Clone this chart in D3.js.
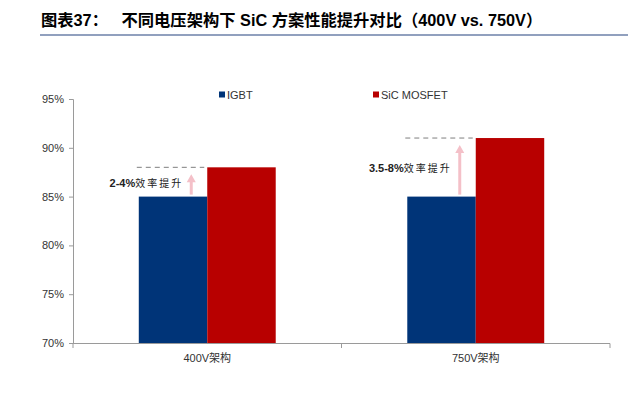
<!DOCTYPE html>
<html lang="zh">
<head>
  <meta charset="UTF-8">
  <title>SiC vs IGBT</title>
  <style>
    body, html { margin: 0; padding: 0; background: #fff; }
    text { font-family: "Liberation Sans", Arial, "Noto Sans CJK SC", sans-serif; }
  </style>
</head>
<body>
  <svg id="svg" width="640" height="403"></svg>

  <script src="https://d3js.org/d3.v7.min.js"></script>
  <script>
    // data
    const categories = ['400V架构', '750V架构']
    const seriesNames = ['IGBT', 'SiC MOSFET']
    const igbtValues = [85, 85]
    const sicValues = [88, 91]
    const gainLabels = ['2-4%', '3.5-8%']
    const yTicks = [70, 75, 80, 85, 90, 95]

    const colors = ['#003478', '#b80000']

    const svg = d3.select('#svg')

    // title + rule under it
    svg.append('text')
      .attr('x', 41)
      .attr('y', 26)
      .attr('font-size', 16.3)
      .attr('font-weight', 'bold')
      .attr('fill', '#000')
      .style('font-family', '"Liberation Sans", Arial, "Noto Sans CJK SC", sans-serif')
      .text('图表37：\u00a0\u00a0\u00a0不同电压架构下 SiC 方案性能提升对比（400V vs. 750V）')

    svg.append('line')
      .attr('x1', 40).attr('x2', 628)
      .attr('y1', 35).attr('y2', 35)
      .attr('stroke', '#6d80a8')
      .attr('stroke-width', 1.5)

    const x0 = d3.scaleBand()
      .domain(categories)
      .range([73, 610])
      .paddingInner(0.49)
      .paddingOuter(0.245)

    const x1 = d3.scaleBand()
      .domain(seriesNames)
      .range([0, x0.bandwidth()])

    const y = d3.scaleLinear()
      .domain([70, 95])
      .range([343, 99])

    // y axis
    const yAxis = d3.axisLeft(y)
      .tickValues(yTicks)
      .tickFormat(d => d + '%')
      .tickSize(4)
      .tickPadding(5)

    const gy = svg.append('g')
      .attr('transform', 'translate(73,0)')
      .call(yAxis)
    gy.select('.domain').attr('stroke', '#9a9a9a')
    gy.selectAll('.tick line').attr('stroke', '#9a9a9a')
    gy.selectAll('.tick text')
      .attr('font-size', 11)
      .attr('fill', '#333')
      .style('font-family', '"Liberation Sans", Arial, sans-serif')

    // bars
    const rows = categories.map((c, i) => ({ cat: c, values: [igbtValues[i], sicValues[i]] }))

    const groups = svg.append('g')
      .selectAll('g')
      .data(rows)
      .join('g')
      .attr('transform', d => `translate(${x0(d.cat)},0)`)

    groups.selectAll('rect')
      .data(d => d.values.map((v, j) => ({ name: seriesNames[j], value: v, j: j })))
      .join('rect')
      .attr('x', d => x1(d.name))
      .attr('width', x1.bandwidth())
      .attr('y', d => y(d.value))
      .attr('height', d => y(70) - y(d.value))
      .attr('fill', d => colors[d.j])

    // x axis (boundary ticks between categories)
    const xStep = x0.step()
    svg.append('line')
      .attr('x1', 73).attr('x2', 610)
      .attr('y1', 343.5).attr('y2', 343.5)
      .attr('stroke', '#9a9a9a')
    svg.append('g')
      .selectAll('line')
      .data(d3.range(categories.length + 1))
      .join('line')
      .attr('x1', i => 73 + i * xStep)
      .attr('x2', i => 73 + i * xStep)
      .attr('y1', 343.5)
      .attr('y2', 348)
      .attr('stroke', '#9a9a9a')

    svg.append('g')
      .selectAll('text')
      .data(categories)
      .join('text')
      .attr('x', d => x0(d) + x0.bandwidth() / 2)
      .attr('y', 362)
      .attr('text-anchor', 'middle')
      .attr('font-size', 11)
      .attr('fill', '#333')
      .text(d => d)

    // annotations: dashed guide, pink arrow, gain label
    const ann = svg.append('g')
      .selectAll('g')
      .data(rows)
      .join('g')

    ann.append('line')
      .attr('x1', d => x0(d.cat) - 2)
      .attr('x2', d => x0(d.cat) + x1.bandwidth() - 3)
      .attr('y1', d => y(d.values[1]))
      .attr('y2', d => y(d.values[1]))
      .attr('stroke', '#7f7f7f')
      .attr('stroke-width', 1)
      .attr('stroke-dasharray', '5,4')

    const arrowX = d => x0(d.cat) + x1.bandwidth() - 16
    ann.append('line')
      .attr('x1', arrowX).attr('x2', arrowX)
      .attr('y1', d => y(d.values[0]) - 2)
      .attr('y2', d => y(d.values[1]) + 14)
      .attr('stroke', '#f4c0c8')
      .attr('stroke-width', 3)

    ann.append('path')
      .attr('d', d => {
        const ax = arrowX(d)
        const top = y(d.values[1]) + 7
        return `M${ax},${top} L${ax - 4.5},${top + 8} L${ax + 4.5},${top + 8} Z`
      })
      .attr('fill', '#f4c0c8')

    const labels = ann.append('text')
      .attr('x', d => arrowX(d) - 8)
      .attr('y', d => (y(d.values[0]) + y(d.values[1])) / 2 + 5)
      .attr('text-anchor', 'end')
      .attr('font-size', 11)
      .attr('fill', '#222')
    labels.append('tspan')
      .attr('font-weight', 'bold')
      .text((d, i) => gainLabels[i])
    labels.append('tspan')
      .attr('font-size', 10)
      .attr('letter-spacing', 2)
      .style('font-family', '"Noto Sans CJK SC", sans-serif')
      .text('效率提升')

    // legend
    const legendX = [219, 373]
    const legend = svg.append('g')
      .selectAll('g')
      .data(seriesNames)
      .join('g')
      .attr('transform', (d, i) => `translate(${legendX[i]},95)`)
    legend.append('rect')
      .attr('x', 0).attr('y', -3.5)
      .attr('width', 6).attr('height', 6)
      .attr('fill', (d, i) => colors[i])
    legend.append('text')
      .attr('x', 8)
      .attr('y', 4)
      .attr('font-size', 11)
      .attr('fill', '#333')
      .text(d => d)
  </script>
</body>
</html>
